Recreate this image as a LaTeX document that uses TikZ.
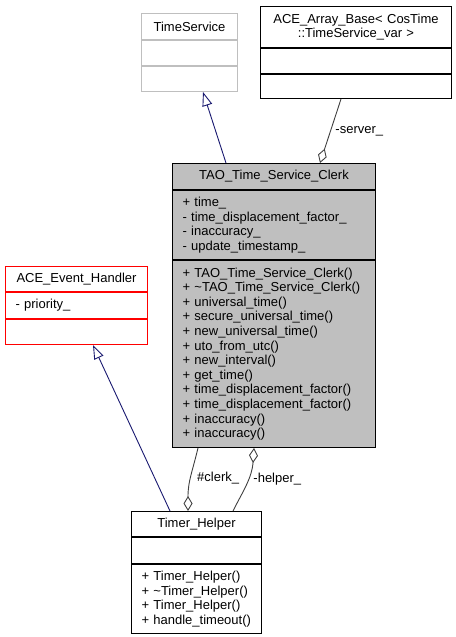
\documentclass[tikz,border=0pt]{standalone}
\usepackage{fontspec}
\setmainfont{Liberation Sans}
\usepackage{tikz}
\usetikzlibrary{arrows.meta,positioning,calc}
\definecolor{clerkgray}{HTML}{BFBFBF}
\definecolor{edgegray}{HTML}{404040}
\definecolor{inhblue}{HTML}{191970}
\tikzstyle{cell}=[draw,line width=1bp,anchor=north west,inner xsep=10bp,inner ysep=0pt,align=left,font=\fontsize{13bp}{14.6bp}\selectfont]
\tikzstyle{head}=[cell,align=center]
\tikzstyle{inherit}=[draw=inhblue,line width=0.9bp,-{Triangle[length=14bp,width=10bp,fill=white]}]
\tikzstyle{usage}=[draw=edgegray,line width=0.9bp,-{Diamond[length=15bp,width=9bp,fill=white]}]
\tikzstyle{lbl}=[inner sep=2bp,anchor=west,font=\fontsize{13bp}{14.6bp}\selectfont]

\begin{document}
\begin{tikzpicture}[x=1bp,y=-1bp]
\useasboundingbox (0,0) rectangle (456,637);
% base class
\node [head,draw=clerkgray,text width=76bp,minimum height=26bp] (ts) at (141,13) {TimeService};
\node [cell,draw=clerkgray,text width=76bp,minimum height=25bp] (tsattr) at (ts.south west) {};
\node [cell,draw=clerkgray,text width=76bp,minimum height=25bp] (tsops) at (tsattr.south west) {};
% server array
\node [head,text width=171bp,minimum height=41bp] (arr) at (260,6) {ACE\_Array\_Base< CosTime\\::TimeService\_var >};
\node [cell,text width=171bp,minimum height=25bp] (arrattr) at (arr.south west) {};
\node [cell,text width=171bp,minimum height=24bp] (arrops) at (arrattr.south west) {};
% clerk
\node [head,fill=clerkgray,text width=183bp,minimum height=26bp] (clerk) at (172,163) {TAO\_Time\_Service\_Clerk};
\node [cell,fill=clerkgray,text width=183bp,minimum height=69bp] (clerkattr) at (clerk.south west) {+ time\_\\- time\_displacement\_factor\_\\- inaccuracy\_\\- update\_timestamp\_};
\node [cell,fill=clerkgray,text width=183bp,minimum height=187bp] (clerkops) at (clerkattr.south west) {+ TAO\_Time\_Service\_Clerk()\\+ \textasciitilde TAO\_Time\_Service\_Clerk()\\+ universal\_time()\\+ secure\_universal\_time()\\+ new\_universal\_time()\\+ uto\_from\_utc()\\+ new\_interval()\\+ get\_time()\\+ time\_displacement\_factor()\\+ time\_displacement\_factor()\\+ inaccuracy()\\+ inaccuracy()};
% event handler
\node [head,draw=red,text width=122bp,minimum height=25bp] (ev) at (5,266) {ACE\_Event\_Handler};
\node [cell,draw=red,text width=122bp,minimum height=26bp] (evattr) at (ev.south west) {- priority\_};
\node [cell,draw=red,text width=122bp,minimum height=25bp] (evops) at (evattr.south west) {};
% timer helper
\node [head,text width=110bp,minimum height=25bp] (helper) at (131,511) {Timer\_Helper};
\node [cell,text width=110bp,minimum height=26bp] (helperattr) at (helper.south west) {};
\node [cell,text width=110bp,minimum height=69bp] (helperops) at (helperattr.south west) {+ Timer\_Helper()\\+ \textasciitilde Timer\_Helper()\\+ Timer\_Helper()\\+ handle\_timeout()};
% inheritance
\draw [inherit] ([xshift=54bp]clerk.north west) -- ([xshift=62bp]tsops.south west);
\draw [inherit] ([xshift=39bp]helper.north west) -- ([xshift=88bp]evops.south west);
% usage
\draw [usage] ([xshift=81bp]arrops.south west) -- node [lbl,xshift=2.5bp] {-server\_} ([xshift=148bp]clerk.north west);
\draw [usage] ([xshift=26bp]clerkops.south west) .. controls +(-6,25) and +(0,-30) .. node [lbl,pos=0.5,xshift=4bp] {\#clerk\_} ([xshift=57bp]helper.north west);
\draw [usage] ([xshift=102bp]helper.north west) .. controls +(10,-20) and +(-2,30) .. node [lbl,pos=0.5,xshift=4.5bp,yshift=4.5bp] {-helper\_} ([xshift=82bp]clerkops.south west);
\end{tikzpicture}
\end{document}
